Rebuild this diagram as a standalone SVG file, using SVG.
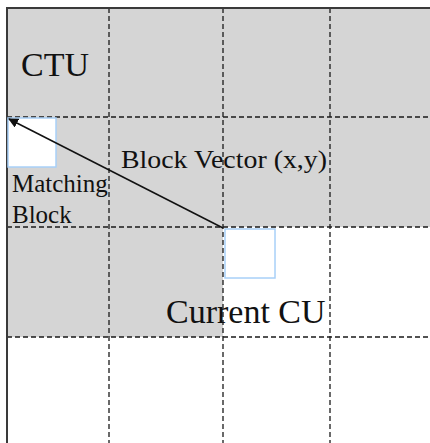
<svg xmlns="http://www.w3.org/2000/svg" width="430" height="443" viewBox="0 0 430 443">
<style>
.grid{stroke:#1a1a1a;stroke-width:1.3;stroke-dasharray:5 3;fill:none}
.blk{fill:#ffffff;stroke:#a8d0f8;stroke-width:1.5}
.t{font-family:"Liberation Serif","Times New Roman",serif;fill:#111}
</style>
<defs>
<marker id="ah" markerWidth="10" markerHeight="10" refX="9" refY="5" orient="auto" markerUnits="userSpaceOnUse">
<path d="M0,0 L10,5 L0,10 z" fill="#111"/>
</marker>
</defs>
<rect x="0" y="0" width="430" height="443" fill="#ffffff"/>
<g id="background">
<path d="M7,8 H430 V227 H223 V337 H7 Z" fill="#d5d5d5"/>
</g>
<g id="grid">
<line class="grid" x1="109" y1="8" x2="109" y2="443"/>
<line class="grid" x1="223" y1="8" x2="223" y2="443"/>
<line class="grid" x1="330" y1="8" x2="330" y2="443"/>
<line class="grid" x1="7" y1="117" x2="430" y2="117"/>
<line class="grid" x1="7" y1="227" x2="430" y2="227"/>
<line class="grid" x1="7" y1="337" x2="430" y2="337"/>
</g>
<g id="frame">
<line x1="7" y1="8" x2="430" y2="8" stroke="#3a3a3a" stroke-width="2"/>
<line x1="7" y1="7" x2="7" y2="443" stroke="#3a3a3a" stroke-width="2"/>
</g>
<g id="ctu">
<text class="t" x="21" y="76" font-size="34">CTU</text>
</g>
<g id="matching-block">
<rect class="blk" x="8" y="118" width="48" height="49"/>
<text class="t" x="12" y="192" font-size="25">Matching</text>
<text class="t" x="12" y="223" font-size="25">Block</text>
</g>
<g id="current-cu">
<rect class="blk" x="225" y="229" width="50" height="49"/>
<text class="t" x="166" y="323" font-size="34">Current CU</text>
</g>
<g id="connectors">
<line x1="223" y1="228" x2="9" y2="119" stroke="#111" stroke-width="1.5" marker-end="url(#ah)"/>
<text class="t" x="121" y="168" font-size="25" textLength="206" lengthAdjust="spacingAndGlyphs">Block Vector (x,y)</text>
</g>
</svg>
